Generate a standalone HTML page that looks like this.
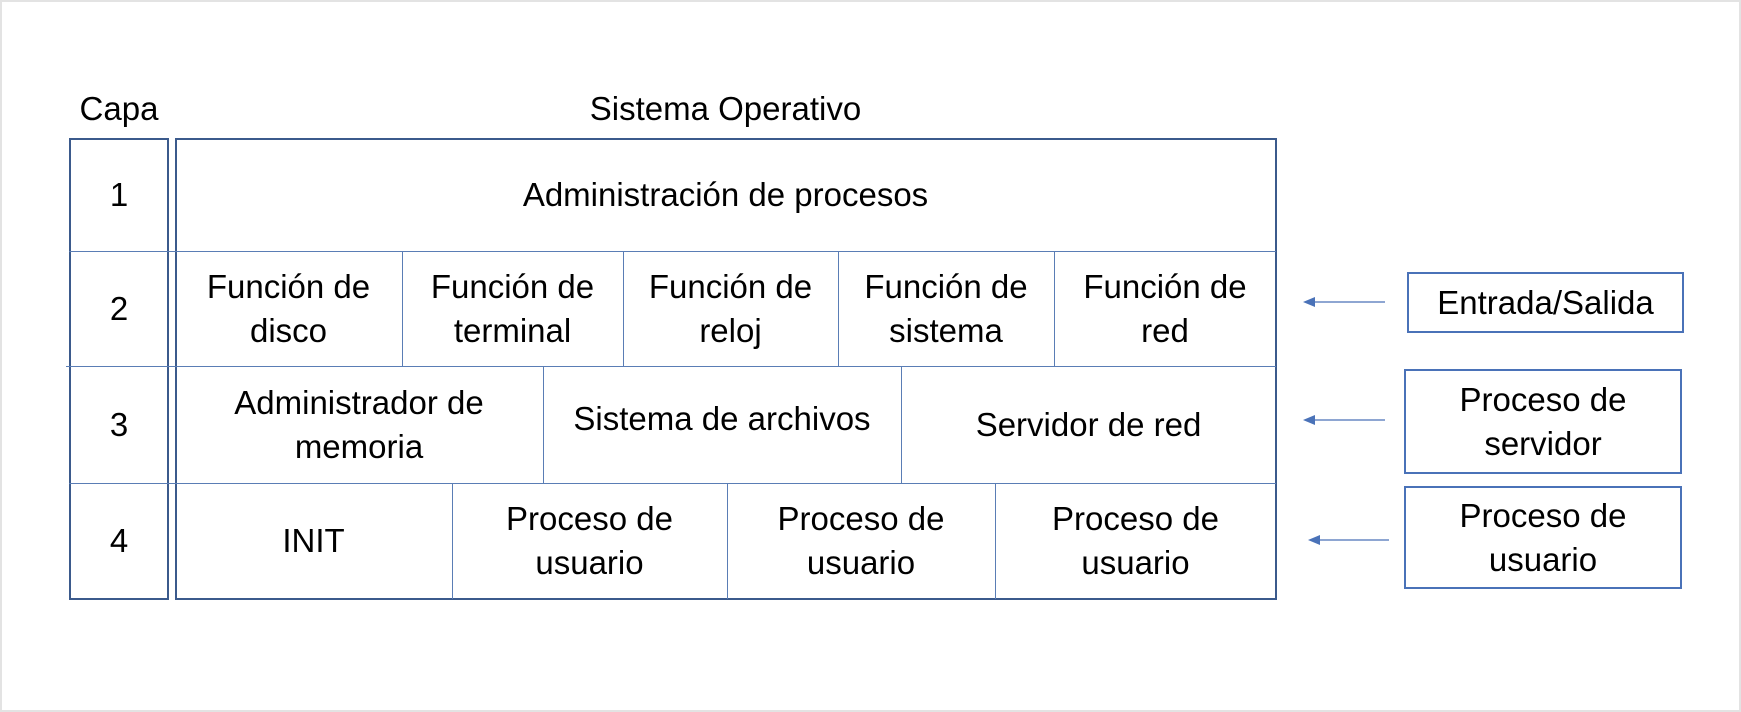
<!DOCTYPE html>
<html><head><meta charset="utf-8"><style>
body{margin:0;width:1741px;height:712px;background:#fff;overflow:hidden;font-family:"Liberation Sans",sans-serif;}
.frame{position:absolute;left:0;top:0;width:1737px;height:708px;border:2px solid #e3e3e3;}
.t{position:absolute;font-size:33px;color:#000;text-align:center;line-height:44px;display:flex;align-items:center;justify-content:center;box-sizing:border-box;}
.box{position:absolute;border:2px solid #3b5a8c;box-sizing:border-box;}
.hl{position:absolute;height:0;border-top:1px solid #5a7db5;}
.vl{position:absolute;width:0;border-left:1px solid #5a7db5;}
</style></head><body>
<div class="frame"></div>
<div class="t" style="left:69px;top:86px;width:100px;height:46px;">Capa</div>
<div class="t" style="left:175px;top:86px;width:1101px;height:46px;">Sistema Operativo</div>
<div class="box" style="left:69px;top:138px;width:100px;height:462px;"></div>
<div class="box" style="left:175px;top:138px;width:1102px;height:462px;"></div>
<div class="hl" style="left:69px;top:251px;width:1207px;"></div>
<div class="hl" style="left:66px;top:366px;width:1210px;"></div>
<div class="hl" style="left:69px;top:483px;width:1207px;"></div>
<div class="vl" style="left:402px;top:251px;height:115px;"></div>
<div class="vl" style="left:623px;top:251px;height:115px;"></div>
<div class="vl" style="left:838px;top:251px;height:115px;"></div>
<div class="vl" style="left:1054px;top:251px;height:115px;"></div>
<div class="vl" style="left:543px;top:366px;height:117px;"></div>
<div class="vl" style="left:901px;top:366px;height:117px;"></div>
<div class="vl" style="left:452px;top:483px;height:116px;"></div>
<div class="vl" style="left:727px;top:483px;height:116px;"></div>
<div class="vl" style="left:995px;top:483px;height:116px;"></div>
<div class="t" style="left:69px;top:138px;width:100px;height:113px;">1</div>
<div class="t" style="left:69px;top:251px;width:100px;height:115px;">2</div>
<div class="t" style="left:69px;top:366px;width:100px;height:117px;">3</div>
<div class="t" style="left:69px;top:483px;width:100px;height:116px;">4</div>
<div class="t" style="left:175px;top:138px;width:1101px;height:113px;">Administración de procesos</div>
<div class="t" style="left:175px;top:251px;width:227px;height:115px;">Función de<br>disco</div>
<div class="t" style="left:402px;top:251px;width:221px;height:115px;">Función de<br>terminal</div>
<div class="t" style="left:623px;top:251px;width:215px;height:115px;">Función de<br>reloj</div>
<div class="t" style="left:838px;top:251px;width:216px;height:115px;">Función de<br>sistema</div>
<div class="t" style="left:1054px;top:251px;width:222px;height:115px;">Función de<br>red</div>
<div class="t" style="left:175px;top:366px;width:368px;height:117px;">Administrador de<br>memoria</div>
<div class="t" style="left:543px;top:366px;width:358px;height:117px;padding-bottom:12px;">Sistema de archivos</div>
<div class="t" style="left:901px;top:366px;width:375px;height:117px;">Servidor de red</div>
<div class="t" style="left:175px;top:483px;width:277px;height:116px;">INIT</div>
<div class="t" style="left:452px;top:483px;width:275px;height:116px;">Proceso de<br>usuario</div>
<div class="t" style="left:727px;top:483px;width:268px;height:116px;">Proceso de<br>usuario</div>
<div class="t" style="left:995px;top:483px;width:281px;height:116px;">Proceso de<br>usuario</div>
<div class="box t" style="left:1407px;top:272px;width:277px;height:61px;border-color:#4a72b8;">Entrada/Salida</div>
<div class="box t" style="left:1404px;top:369px;width:278px;height:105px;border-color:#4a72b8;">Proceso de<br>servidor</div>
<div class="box t" style="left:1404px;top:486px;width:278px;height:103px;border-color:#4a72b8;">Proceso de<br>usuario</div>
<svg width="1741" height="712" style="position:absolute;left:0;top:0">
<g stroke="#4a72b8" stroke-width="1.2" fill="#4a72b8">
<line x1="1385" y1="302" x2="1312" y2="302"/><polygon points="1303,302 1315,297 1315,307" stroke="none"/>
<line x1="1385" y1="420" x2="1312" y2="420"/><polygon points="1303,420 1315,415 1315,425" stroke="none"/>
<line x1="1389" y1="540" x2="1318" y2="540"/><polygon points="1308,540 1320,535 1320,545" stroke="none"/>
</g></svg>
</body></html>
